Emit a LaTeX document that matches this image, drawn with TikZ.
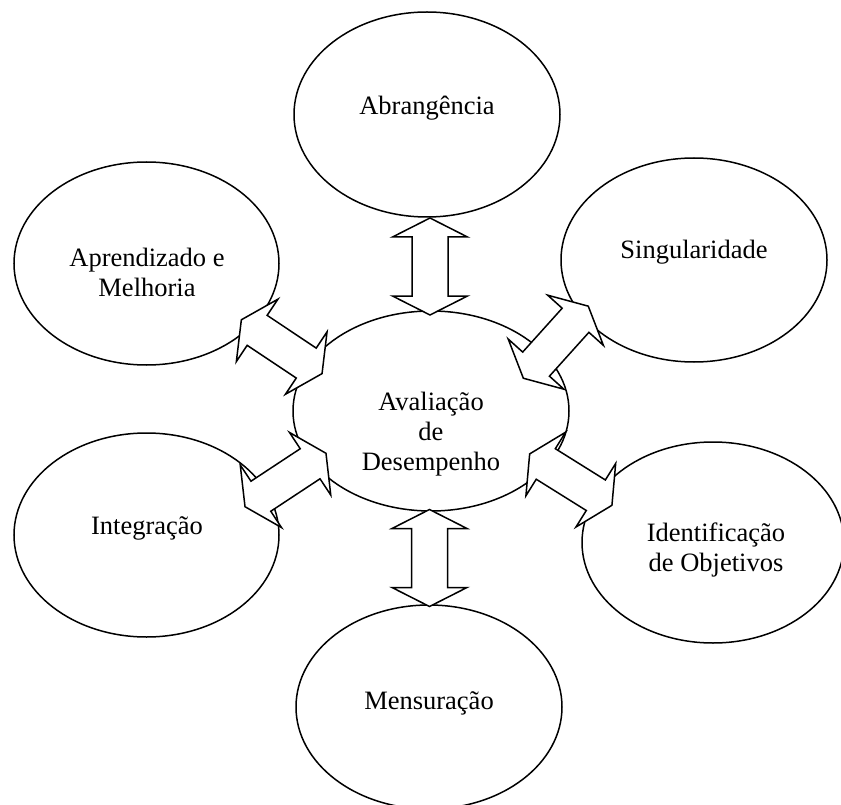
\documentclass[tikz,border=0pt]{standalone}
\usepackage{fontspec}
\setmainfont{Liberation Serif}
\usetikzlibrary{shapes.geometric}
\begin{document}
\begin{tikzpicture}[x=1pt,y=-1pt,
  bubble/.style={draw=black, line width=1.5pt, ellipse, fill=white, inner sep=0pt},
  lbl/.style={font=\fontsize{26.5}{30}\selectfont, align=center, inner sep=0pt},
  blockarrow/.pic={
    \draw[line width=1.5pt, fill=white, line join=miter]
      (-48.5,0) -- (-29.5,-37.5) -- (-29.5,-18) -- (29.5,-18) -- (29.5,-37.5)
      -- (48.5,0) -- (29.5,37.5) -- (29.5,18) -- (-29.5,18) -- (-29.5,37.5) -- cycle;
  }
]
\useasboundingbox (0,0) rectangle (841,805);
\clip (0,0) rectangle (841,805);

% ellipses
\node[bubble, minimum width=266pt, minimum height=205pt] (abr)   at (427,114.5) {};
\node[bubble, minimum width=265pt, minimum height=203pt] (apr)   at (146.5,263.5) {};
\node[bubble, minimum width=266pt, minimum height=204pt] (sing)  at (694,260) {};
\node[bubble, minimum width=276pt, minimum height=200pt] (cen)   at (431,411) {};
\node[bubble, minimum width=265pt, minimum height=204pt] (integ) at (146.5,535) {};
\node[bubble, minimum width=262pt, minimum height=201pt] (ident) at (713,542.5) {};
\node[bubble, minimum width=266pt, minimum height=204pt] (mens)  at (429,707) {};

% labels
\node[lbl] (tabr)   at (427,108) {Abrangência};
\node[lbl] (tapr)   at (147,272) {Aprendizado e\\Melhoria};
\node[lbl] (tsing)  at (694,252) {Singularidade};
\node[lbl] (tcen)   at (431,434) {Avaliação\\de\\Desempenho};
\node[lbl] (tinteg) at (147,528) {Integração};
\node[lbl] (tident) at (716,550) {Identificação\\de Objetivos};
\node[lbl] (tmens)  at (429,703) {Mensuração};

% block double arrows
\pic[rotate=90]    (atop) at (430,266.5)   {blockarrow};
\pic[rotate=90]    (abot) at (429.5,558)   {blockarrow};
\pic[rotate=-33.7] (aul)  at (281.7,346.7) {blockarrow};
\pic[rotate=48]    (aur)  at (555.8,342.2) {blockarrow};
\pic[rotate=33.4]  (all)  at (285.5,480)   {blockarrow};
\pic[rotate=-32]   (alr)  at (570.8,479.6) {blockarrow};
\end{tikzpicture}
\end{document}
